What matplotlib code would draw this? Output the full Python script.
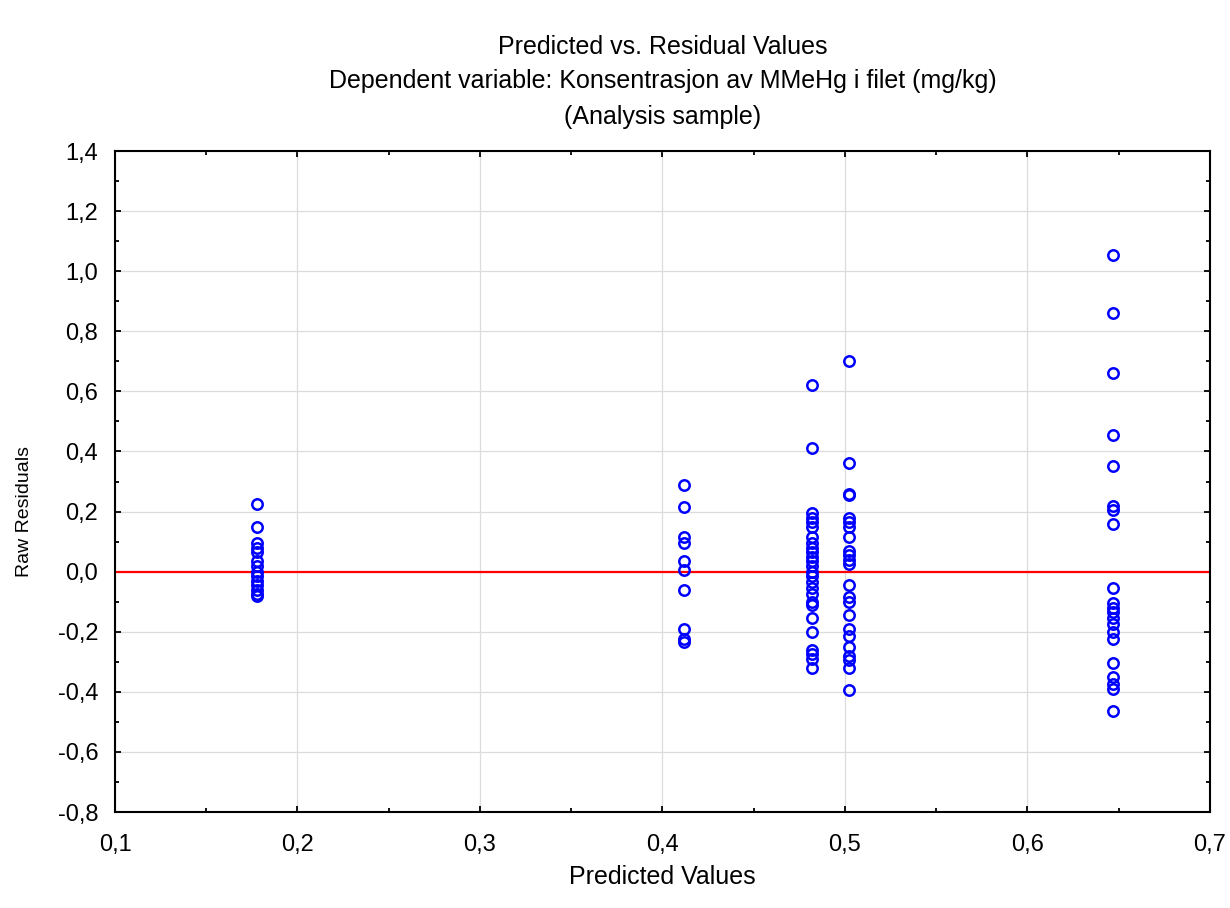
import matplotlib
matplotlib.use("Agg")
import matplotlib.pyplot as plt
from matplotlib.ticker import MultipleLocator, FuncFormatter

plt.rcParams['font.family'] = ['Liberation Sans', 'DejaVu Sans']

# predicted value of each group and its raw residuals
pred_levels = [0.178, 0.412, 0.482, 0.502, 0.647]
resid_g1 = [0.225, 0.15, 0.095, 0.08, 0.065, 0.035, 0.02, 0.0, -0.015, -0.03,
            -0.045, -0.06, -0.075, -0.08]
resid_g2 = [0.29, 0.215, 0.115, 0.095, 0.035, 0.005, -0.06, -0.19, -0.225, -0.235]
resid_g3 = [0.62, 0.41, 0.195, 0.18, 0.165, 0.15, 0.115, 0.095, 0.08, 0.065,
            0.05, 0.035, 0.02, 0.0, -0.015, -0.035, -0.055, -0.075, -0.10, -0.11,
            -0.155, -0.20, -0.26, -0.275, -0.29, -0.32]
resid_g4 = [0.70, 0.36, 0.26, 0.255, 0.18, 0.165, 0.15, 0.115, 0.07, 0.055,
            0.04, 0.025, -0.045, -0.085, -0.10, -0.145, -0.19, -0.215, -0.25,
            -0.28, -0.295, -0.32, -0.395]
resid_g5 = [1.055, 0.86, 0.66, 0.455, 0.35, 0.22, 0.205, 0.16, -0.055, -0.105,
            -0.12, -0.135, -0.155, -0.175, -0.2, -0.225, -0.305, -0.35, -0.375,
            -0.39, -0.465]
residuals = [resid_g1, resid_g2, resid_g3, resid_g4, resid_g5]

fig = plt.figure(figsize=(12.3, 9.08), dpi=100)
ax = fig.add_axes([0.0935, 0.1057, 0.8902, 0.728])

for p, res in zip(pred_levels, residuals):
    ax.plot([p] * len(res), res, linestyle='none', marker='o', markersize=7.5,
            markerfacecolor='none', markeredgecolor='#0000ff', markeredgewidth=1.8,
            zorder=3)

ax.axhline(0, color='#ff0000', linewidth=1.6, zorder=2)

ax.set_xlim(0.1, 0.7)
ax.set_ylim(-0.8, 1.4)
ax.xaxis.set_major_locator(MultipleLocator(0.1))
ax.xaxis.set_minor_locator(MultipleLocator(0.05))
ax.yaxis.set_major_locator(MultipleLocator(0.2))
ax.yaxis.set_minor_locator(MultipleLocator(0.1))
comma = FuncFormatter(lambda v, pos: f"{v:.1f}".replace('.', ',').replace('-0,0', '0,0'))
ax.xaxis.set_major_formatter(comma)
ax.yaxis.set_major_formatter(comma)

ax.grid(True, which='major', color='#dcdcdc', linewidth=0.9, zorder=0)
ax.tick_params(which='both', direction='in', top=True, right=True,
               color='black')
ax.tick_params(axis='x', which='major', labelsize=17, pad=16)
ax.tick_params(axis='y', which='major', labelsize=17, pad=12)
ax.tick_params(which='major', length=4, width=1.3)
ax.tick_params(which='minor', length=3, width=1.3)
for s in ax.spines.values():
    s.set_linewidth(1.5)
    s.set_color('black')

ax.set_xlabel('Predicted Values', fontsize=18)
ax.xaxis.set_label_coords(0.5, -0.08)
ax.set_ylabel('Raw Residuals', fontsize=14)
ax.yaxis.set_label_coords(-0.075, 0.455)

fig.text(0.539, 0.948, 'Predicted vs. Residual Values', ha='center', va='center', fontsize=18)
fig.text(0.539, 0.911, 'Dependent variable: Konsentrasjon av MMeHg i filet (mg/kg)',
         ha='center', va='center', fontsize=18)
fig.text(0.539, 0.871, '(Analysis sample)', ha='center', va='center', fontsize=18)

fig.savefig('out.png', dpi=100)
